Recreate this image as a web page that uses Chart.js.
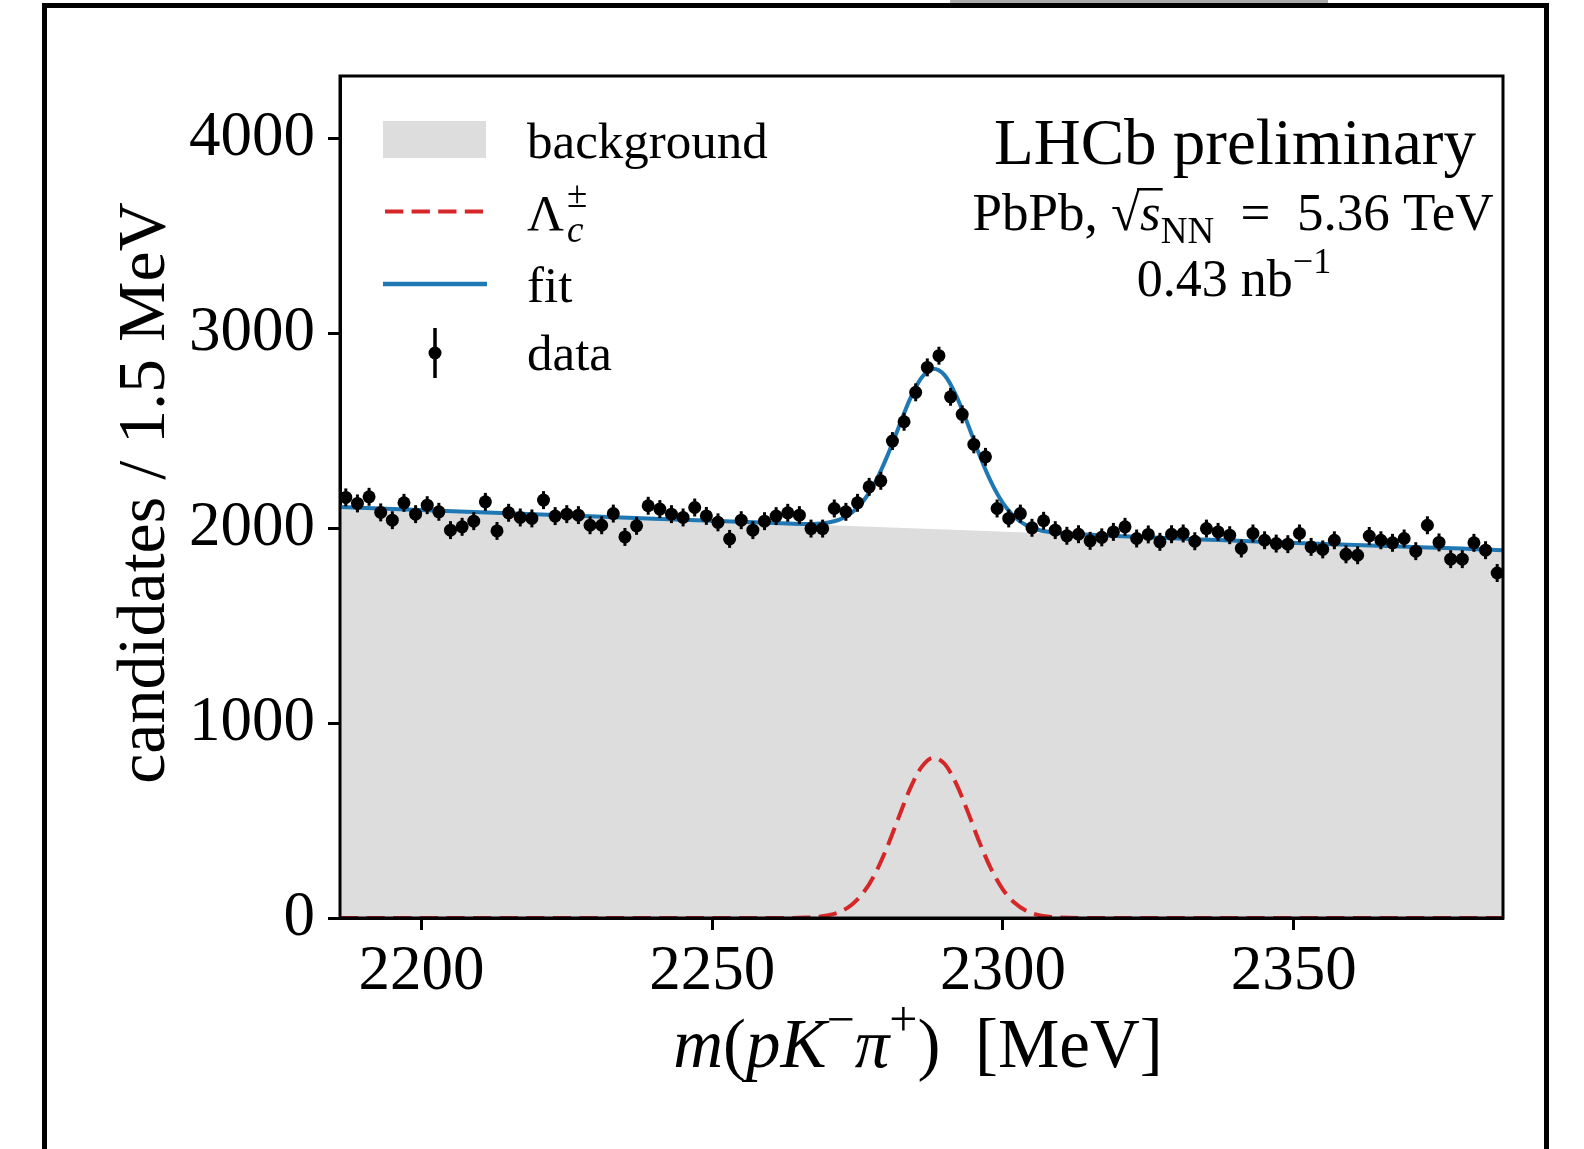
<!DOCTYPE html>
<html>
<head>
<meta charset="utf-8">
<script src="https://cdn.jsdelivr.net/npm/chart.js@4.4.1/dist/chart.umd.min.js"></script>
<style>
  html, body { margin: 0; padding: 0; background: #fff; }
  #wrap { position: relative; width: 1584px; height: 1149px; }
</style>
</head>
<body>
<div id="wrap"><canvas id="chartMass" width="1584" height="1149"></canvas></div>
<script>
const FONT = "'Liberation Serif', 'DejaVu Serif', serif";

// binned data, 2 MeV bins starting at 2186
const binStart = 2187;
const binWidth = 2;
const counts = [
    2158, 2127, 2161, 2081, 2041, 2130, 2072, 2118, 2084, 1990,
    2007, 2036, 2135, 1986, 2079, 2055, 2050, 2144, 2062, 2072,
    2067, 2015, 2015, 2075, 1955, 2012, 2115, 2098, 2072, 2055,
    2106, 2063, 2030, 1945, 2041, 1990, 2036, 2062, 2079, 2067,
    1998, 1998, 2101, 2084, 2130, 2212, 2243, 2447, 2546, 2697,
    2825, 2885, 2674, 2584, 2430, 2366, 2101, 2050, 2075, 2002,
    2038, 1990, 1961, 1969, 1935, 1953, 1981, 2007, 1947, 1968,
    1930, 1969, 1973, 1933, 1998, 1981, 1964, 1896, 1973, 1938,
    1921, 1918, 1973, 1904, 1891, 1938, 1866, 1861, 1960, 1938,
    1925, 1947, 1882, 2015, 1927, 1841, 1841, 1925, 1887, 1770
];
const errHalf = 46;

// fit curves
const curveX  = [2186, 2230, 2262, 2266, 2268, 2270, 2272, 2274, 2276, 2278, 2280, 2282, 2284, 2286,
                 2288, 2290, 2292, 2294, 2296, 2298, 2300, 2302, 2304, 2306, 2308, 2310, 2314, 2386];
const fitY    = [2109, 2060, 2025, 2022, 2023, 2029, 2045, 2079, 2139, 2233, 2362, 2512, 2661, 2772,
                 2818, 2784, 2678, 2531, 2373, 2235, 2129, 2058, 2015, 1992, 1980, 1974, 1967, 1887];
const signalY = [0, 0, 0, 2, 5, 14, 32, 68, 130, 226, 357, 510, 661, 774,
                 822, 790, 687, 542, 386, 250, 146, 78, 37, 16, 6, 2, 0, 0];
const bgX = [2186, 2386];
const bgY = [2109, 1887];

const xTicks = [2200, 2250, 2300, 2350];
const yTicks = [0, 1000, 2000, 3000, 4000];

const binCenters = counts.map((c, i) => binStart + binWidth * i);
const pts = (xs, ys) => xs.map((x, i) => ({ x: x, y: ys[i] }));

function rich(ctx, parts, x, y, align, size) {
    // parts: [text, italic, scale, dy in em]
    const fonts = parts.map(p => (p[1] ? "italic " : "") + Math.round(size * (p[2] || 1)) + "px " + FONT);
    let w = 0;
    const ws = parts.map((p, i) => { ctx.font = fonts[i]; const m = ctx.measureText(p[0]).width; w += m; return m; });
    let cx = align === "center" ? x - w / 2 : (align === "right" ? x - w : x);
    const xs = [];
    ctx.textAlign = "left";
    ctx.textBaseline = "alphabetic";
    parts.forEach((p, i) => {
        ctx.font = fonts[i];
        ctx.fillText(p[0], cx, y + (p[3] || 0) * size);
        xs.push([cx, cx + ws[i]]);
        cx += ws[i];
    });
    return xs;
}

const decorations = {
    id: "decorations",
    afterDatasetsDraw(chart) {
        const ctx = chart.ctx;
        const a = chart.chartArea;
        const xs = chart.scales.x, ys = chart.scales.y;
        // error bars
        ctx.save();
        ctx.beginPath();
        ctx.rect(a.left, a.top, a.right - a.left, a.bottom - a.top);
        ctx.clip();
        ctx.strokeStyle = "#000";
        ctx.lineWidth = 3;
        counts.forEach((c, i) => {
            const px = xs.getPixelForValue(binCenters[i]);
            ctx.beginPath();
            ctx.moveTo(px, ys.getPixelForValue(c - errHalf));
            ctx.lineTo(px, ys.getPixelForValue(c + errHalf));
            ctx.stroke();
        });
        ctx.restore();
    },
    afterDraw(chart) {
        const ctx = chart.ctx;
        const a = chart.chartArea;
        ctx.save();
        // axes box
        ctx.strokeStyle = "#000";
        ctx.lineWidth = 3;
        ctx.strokeRect(a.left, a.top, a.right - a.left, a.bottom - a.top);

        // legend handles
        ctx.fillStyle = "#dddddd";
        ctx.fillRect(383, 121, 103, 37);
        ctx.strokeStyle = "#d62728";
        ctx.lineWidth = 4;
        ctx.setLineDash([18.3, 8.3]);
        ctx.beginPath(); ctx.moveTo(385, 211.5); ctx.lineTo(483, 211.5); ctx.stroke();
        ctx.setLineDash([]);
        ctx.strokeStyle = "#1f77b4";
        ctx.lineWidth = 4.5;
        ctx.beginPath(); ctx.moveTo(383, 284); ctx.lineTo(487, 284); ctx.stroke();
        ctx.strokeStyle = "#000";
        ctx.lineWidth = 3.5;
        ctx.beginPath(); ctx.moveTo(435, 328); ctx.lineTo(435, 378); ctx.stroke();
        ctx.fillStyle = "#000";
        ctx.beginPath(); ctx.arc(435, 353, 6.5, 0, Math.PI * 2); ctx.fill();

        // legend labels
        rich(ctx, [["background"]], 527, 158, "left", 51);
        const lam = rich(ctx, [["Λ"]], 527, 230, "left", 51);
        rich(ctx, [["c", true, 0.72, 0.24]], lam[0][1] + 3, 230, "left", 51);
        rich(ctx, [["±", false, 0.72, -0.45]], lam[0][1] + 3, 230, "left", 51);
        rich(ctx, [["fit"]], 527, 302, "left", 51);
        rich(ctx, [["data"]], 527, 370, "left", 51);

        // annotations
        rich(ctx, [["LHCb preliminary"]], 1235, 164, "center", 65);
        const ln = rich(ctx, [["PbPb, "], ["√"], ["s", true], ["NN", false, 0.7, 0.25], ["  =  5.36 TeV"]], 1233, 230, "center", 53);
        ctx.fillStyle = "#000";
        ctx.fillRect(ln[1][1] - 3, 230 - 42, ln[2][1] - ln[1][1] + 5, 2.5);
        rich(ctx, [["0.43 nb"], ["−1", false, 0.7, -0.45]], 1234, 296, "center", 52);

        // axis titles
        rich(ctx, [["m", true], ["("], ["p", true], ["K", true], ["−", false, 0.72, -0.45], ["π", true],
                   ["+", false, 0.72, -0.45], [")"], ["  [MeV]"]], 918, 1067, "center", 69);
        ctx.save();
        ctx.translate(164, 493);
        ctx.rotate(-Math.PI / 2);
        rich(ctx, [["candidates / 1.5 MeV"]], 0, 0, "center", 68);
        ctx.restore();

        // outer frame
        ctx.fillStyle = "#aaaaaa";
        ctx.fillRect(950, 0, 378, 3);
        ctx.fillStyle = "#000";
        ctx.fillRect(42, 3, 5, 1146);
        ctx.fillRect(42, 3, 1507, 5);
        ctx.fillRect(1544, 3, 5, 1146);
        ctx.restore();
    }
};

new Chart(document.getElementById("chartMass"), {
    type: "line",
    data: {
        datasets: [
            {
                label: "data",
                data: pts(binCenters, counts),
                showLine: false,
                pointRadius: 6.5,
                pointBackgroundColor: "#000",
                pointBorderWidth: 0,
                order: 0
            },
            {
                label: "fit",
                data: pts(curveX, fitY),
                borderColor: "#1f77b4",
                borderWidth: 4,
                pointRadius: 0,
                cubicInterpolationMode: "monotone",
                fill: false,
                order: 1
            },
            {
                label: "Λc±",
                data: pts(curveX, signalY),
                borderColor: "#d62728",
                borderWidth: 4,
                borderDash: [18.3, 8.3],
                pointRadius: 0,
                cubicInterpolationMode: "monotone",
                fill: false,
                order: 2
            },
            {
                label: "background",
                data: pts(bgX, bgY),
                borderWidth: 0,
                borderColor: "rgba(0,0,0,0)",
                backgroundColor: "#dddddd",
                pointRadius: 0,
                fill: "origin",
                order: 3
            }
        ]
    },
    options: {
        responsive: false,
        animation: false,
        layout: { padding: { top: 76, right: 81, left: 0, bottom: 0 } },
        plugins: { legend: { display: false }, tooltip: { enabled: false } },
        scales: {
            x: {
                type: "linear",
                min: 2186,
                max: 2386,
                afterBuildTicks: s => { s.ticks = xTicks.map(v => ({ value: v })); },
                afterFit: s => { s.height = 231; },
                grid: { drawOnChartArea: false, drawTicks: true, tickLength: 12, tickWidth: 3, tickColor: "#000" },
                border: { display: true, color: "#000", width: 3 },
                ticks: { color: "#000", font: { family: FONT, size: 63 }, padding: 5, maxRotation: 0,
                         callback: v => String(v) }
            },
            y: {
                type: "linear",
                min: 0,
                max: 4320,
                afterBuildTicks: s => { s.ticks = yTicks.map(v => ({ value: v })); },
                afterFit: s => { s.width = 340; },
                grid: { drawOnChartArea: false, drawTicks: true, tickLength: 12, tickWidth: 3, tickColor: "#000" },
                border: { display: true, color: "#000", width: 3 },
                ticks: { color: "#000", font: { family: FONT, size: 63 }, padding: 13,
                         callback: v => String(v) }
            }
        }
    },
    plugins: [decorations]
});
</script>
</body>
</html>
